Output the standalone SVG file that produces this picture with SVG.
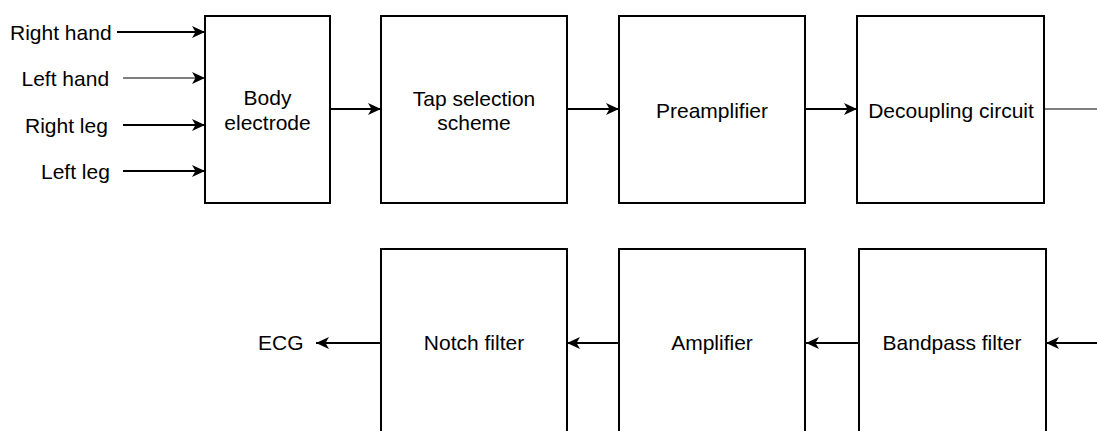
<svg xmlns="http://www.w3.org/2000/svg" width="1097" height="431" viewBox="0 0 1097 431">
<style>
.box{fill:#fff;stroke:#000;stroke-width:2}
.t{font-family:"Liberation Sans",Arial,sans-serif;font-size:21px;fill:#000}
.c{text-anchor:middle}
.ln{stroke:#000;stroke-width:2;fill:none}
.lt{stroke:#555;stroke-width:1.5;fill:none}
</style>
<defs>
<marker id="arr" markerUnits="userSpaceOnUse" markerWidth="16" markerHeight="14" refX="13" refY="6" orient="auto" overflow="visible">
<path d="M0,0 L13,6 L0,12 L3.5,6 Z" fill="#000"/>
</marker>
</defs>
<rect width="1097" height="431" fill="#fff"/>
<g id="connectors">
<line class="ln" x1="117" y1="32" x2="205" y2="32" marker-end="url(#arr)"/>
<line class="lt" x1="123" y1="78" x2="205" y2="78" marker-end="url(#arr)"/>
<line class="ln" x1="123" y1="125" x2="205" y2="125" marker-end="url(#arr)"/>
<line class="ln" x1="123" y1="171" x2="205" y2="171" marker-end="url(#arr)"/>
<line class="ln" x1="330" y1="109" x2="381" y2="109" marker-end="url(#arr)"/>
<line class="ln" x1="567" y1="109" x2="619" y2="109" marker-end="url(#arr)"/>
<line class="ln" x1="805" y1="109" x2="857" y2="109" marker-end="url(#arr)"/>
<line class="lt" x1="1044" y1="109" x2="1097" y2="109"/>
<line class="ln" x1="1097" y1="343" x2="1046" y2="343" marker-end="url(#arr)"/>
<line class="ln" x1="859" y1="343" x2="806" y2="343" marker-end="url(#arr)"/>
<line class="ln" x1="619" y1="343" x2="567" y2="343" marker-end="url(#arr)"/>
<line class="ln" x1="381" y1="343" x2="316" y2="343" marker-end="url(#arr)"/>
</g>
<g id="labels">
<text class="t" x="10" y="40">Right hand</text>
<text class="t" x="21.5" y="86">Left hand</text>
<text class="t" x="25" y="133">Right leg</text>
<text class="t" x="41" y="179">Left leg</text>
<text class="t" x="258" y="350">ECG</text>
</g>
<g id="body-electrode">
<rect class="box" x="205" y="16" width="125" height="187"/>
<text class="t c" x="267.5" y="105">Body</text>
<text class="t c" x="267.5" y="130">electrode</text>
</g>
<g id="tap-selection">
<rect class="box" x="381" y="16" width="186" height="187"/>
<text class="t c" x="474" y="106">Tap selection</text>
<text class="t c" x="474" y="130">scheme</text>
</g>
<g id="preamplifier">
<rect class="box" x="619" y="16" width="186" height="187"/>
<text class="t c" x="712" y="118">Preamplifier</text>
</g>
<g id="decoupling">
<rect class="box" x="857" y="16" width="187" height="187"/>
<text class="t c" x="951" y="118">Decoupling circuit</text>
</g>
<g id="notch-filter">
<rect class="box" x="381" y="249" width="186" height="200"/>
<text class="t c" x="474" y="350">Notch filter</text>
</g>
<g id="amplifier">
<rect class="box" x="619" y="249" width="186" height="200"/>
<text class="t c" x="712" y="350">Amplifier</text>
</g>
<g id="bandpass-filter">
<rect class="box" x="859" y="249" width="187" height="200"/>
<text class="t c" x="952" y="350">Bandpass filter</text>
</g>
</svg>
